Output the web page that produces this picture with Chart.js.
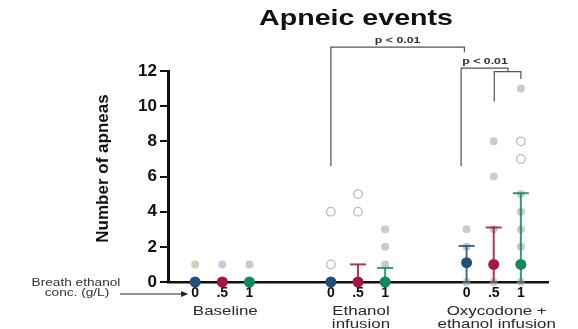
<!DOCTYPE html>
<html>
<head>
<meta charset="utf-8">
<script src="https://cdn.jsdelivr.net/npm/chart.js@4.4.1/dist/chart.umd.min.js"></script>
<style>
  body { margin: 0; background: #fff; }
</style>
</head>
<body>
<canvas id="chart" width="578" height="329"></canvas>
<script>
// x positions of the nine columns (three doses x three conditions)
const positions = [0, 1, 2, 5, 6, 7, 10, 11, 12];
const doseLabels = ['0', '.5', '1', '0', '.5', '1', '0', '.5', '1'];
const groupLabels = [['Baseline'], ['Ethanol', 'infusion'], ['Oxycodone +', 'ethanol infusion']];
const groupCenters = [1, 6, 11];

// mean and error bar ends
const meanValues = [0, 0, 0, 0, 0, 0, 1.1, 1.0, 1.0];
const errUpper = [0, 0, 0, 0, 1.0, 0.8, 2.05, 3.1, 5.05];
const errLower = [0, 0, 0, 0, 0, 0, 0, 0, 0];

// individual animals, filled and open symbols
const filledValues = [[1], [1], [1], [], [], [3, 2, 1], [3, 2, 0], [8, 6, 3, 0], [11, 5, 4, 3, 2, 0]];
const openValues = [[], [], [], [4, 1], [5, 4], [], [], [], [8, 7]];

const yTicks = [0, 2, 4, 6, 8, 10, 12];

const doseColors = ['#23507a', '#a5173f', '#108a5c'];
const barColors = ['rgba(35,80,122,0.85)', 'rgba(165,23,63,0.85)', 'rgba(16,138,92,0.85)'];
const dotColors = ['rgba(185,182,150,0.65)', 'rgba(165,178,200,0.65)', 'rgba(190,165,185,0.65)',
  'rgba(160,160,160,0.55)', 'rgba(160,160,160,0.55)', 'rgba(160,160,160,0.55)',
  'rgba(160,160,160,0.55)', 'rgba(160,160,160,0.55)', 'rgba(160,160,160,0.55)'];

const SX = 1.3;
function stretchText(ctx, text, x, y, font, align) {
  ctx.save();
  ctx.font = font;
  ctx.textAlign = align || 'center';
  ctx.textBaseline = 'middle';
  ctx.translate(x, y);
  ctx.scale(SX, 1);
  ctx.fillText(text, 0, 0);
  ctx.restore();
}

const datasets = [];
datasets.push({
  data: positions.map((x, i) => ({ x: x, y: meanValues[i] })),
  pointBackgroundColor: positions.map((x, i) => doseColors[i % 3]),
  pointBorderWidth: 0,
  pointRadius: 5.5,
  clip: false
});
positions.forEach((x, i) => {
  if (errUpper[i] <= errLower[i]) return;
  datasets.push({
    data: [{ x: x, y: errLower[i] }, { x: x, y: errUpper[i] }],
    showLine: true,
    borderColor: barColors[i % 3],
    borderWidth: 2,
    pointStyle: 'line',
    pointRadius: [0, 8],
    pointBorderColor: barColors[i % 3],
    pointBorderWidth: 2,
    clip: false
  });
});
const filledPts = [], filledCols = [];
positions.forEach((x, i) => filledValues[i].forEach(v => { filledPts.push({ x: x, y: v }); filledCols.push(dotColors[i]); }));
datasets.push({
  data: filledPts,
  pointBackgroundColor: filledCols,
  pointBorderWidth: 0,
  pointRadius: 4,
  clip: false
});
const openPts = [];
positions.forEach((x, i) => openValues[i].forEach(v => openPts.push({ x: x, y: v })));
datasets.push({
  data: openPts,
  pointBackgroundColor: '#fff',
  pointBorderColor: 'rgba(175,175,175,0.85)',
  pointBorderWidth: 1.3,
  pointRadius: 4.3,
  clip: false
});

const decorations = {
  id: 'decorations',
  afterDraw(chart) {
    const ctx = chart.ctx;
    const xs = chart.scales.x, ys = chart.scales.y;
    const area = chart.chartArea;
    const X = v => xs.getPixelForValue(v), Y = v => ys.getPixelForValue(v);

    ctx.fillStyle = '#111';
    stretchText(ctx, 'Apneic events', (area.left + area.right) / 2 - 2, 19, 'bold 22px "Liberation Sans"');

    ctx.save();
    ctx.translate(103, (area.top + area.bottom) / 2 - 8);
    ctx.rotate(-Math.PI / 2);
    ctx.font = 'bold 17px "Liberation Sans"';
    ctx.textAlign = 'center';
    ctx.textBaseline = 'middle';
    ctx.fillText('Number of apneas', 0, 0);
    ctx.restore();

    // breath ethanol note and arrow
    ctx.fillStyle = '#333';
    stretchText(ctx, 'Breath ethanol', 76, area.bottom + 1, '10.5px "Liberation Sans"');
    stretchText(ctx, 'conc. (g/L)', 77, area.bottom + 11, '10.5px "Liberation Sans"');
    const ay = area.bottom + 12, ax = X(0) - 7;
    ctx.strokeStyle = '#222';
    ctx.lineWidth = 1.2;
    ctx.beginPath();
    ctx.moveTo(120, ay);
    ctx.lineTo(ax - 5, ay);
    ctx.stroke();
    ctx.fillStyle = '#222';
    ctx.beginPath();
    ctx.moveTo(ax, ay);
    ctx.lineTo(ax - 7, ay - 3);
    ctx.lineTo(ax - 7, ay + 3);
    ctx.closePath();
    ctx.fill();

    // group names
    ctx.fillStyle = '#2a2a2a';
    groupLabels.forEach((lines, g) => {
      lines.forEach((t, k) => stretchText(ctx, t, X(groupCenters[g]) + 3, area.bottom + 29 + k * 13, '13px "Liberation Sans"'));
    });

    // significance brackets
    ctx.strokeStyle = '#555';
    ctx.lineWidth = 1.2;
    const seg = pts => {
      ctx.beginPath();
      pts.forEach((p, k) => k ? ctx.lineTo(X(p[0]), Y(p[1])) : ctx.moveTo(X(p[0]), Y(p[1])));
      ctx.stroke();
    };
    seg([[5, 6.6], [5, 13.36], [9.92, 13.36], [9.92, 13.06]]);
    seg([[9.8, 6.6], [9.8, 12.16], [11.53, 12.16], [11.53, 11.96]]);
    seg([[11.02, 10.26], [11.02, 11.96], [12, 11.96], [12, 11.55]]);
    ctx.fillStyle = '#333';
    stretchText(ctx, 'p < 0.01', X(7.46), Y(13.77), 'bold 9.5px "Liberation Sans"');
    stretchText(ctx, 'p < 0.01', X(10.68), Y(12.53), 'bold 9.5px "Liberation Sans"');
  }
};

new Chart(document.getElementById('chart'), {
  type: 'scatter',
  data: { datasets: datasets },
  plugins: [decorations],
  options: {
    responsive: false,
    animation: false,
    layout: { padding: { left: 0, right: 30, top: 71, bottom: 0 } },
    plugins: { legend: { display: false }, tooltip: { enabled: false } },
    scales: {
      x: {
        type: 'linear',
        min: -1,
        max: 13,
        afterBuildTicks: s => { s.ticks = positions.map(v => ({ value: v })); },
        afterFit: s => { s.height = 47; },
        grid: { display: false, drawTicks: false },
        border: { display: true, width: 2.5, color: '#111' },
        ticks: {
          autoSkip: false,
          maxRotation: 0,
          padding: 3,
          color: '#111',
          font: { family: 'Liberation Sans', size: 14, weight: 'bold' },
          callback: v => doseLabels[positions.indexOf(v)] || ''
        }
      },
      y: {
        min: 0,
        max: 12,
        afterBuildTicks: s => { s.ticks = yTicks.map(v => ({ value: v })); },
        afterFit: s => { s.width = 168; },
        grid: { drawOnChartArea: false, tickLength: 8, color: '#111', lineWidth: 2 },
        border: { display: true, width: 3, color: '#111' },
        ticks: {
          padding: 3,
          color: '#111',
          font: { family: 'Liberation Sans', size: 17, weight: 'bold' }
        }
      }
    }
  }
});
</script>
</body>
</html>
